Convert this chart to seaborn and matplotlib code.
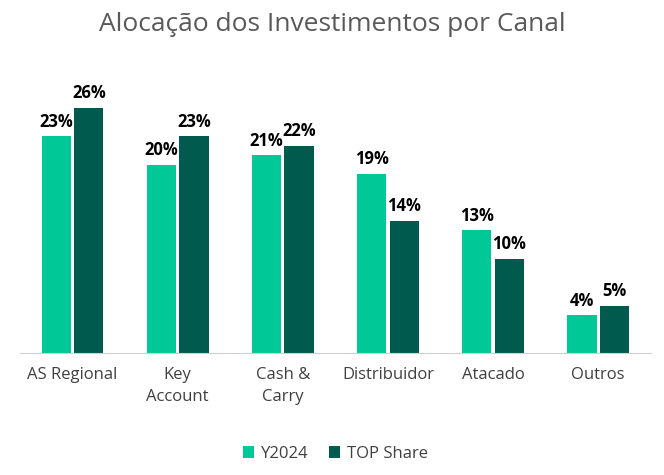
import pandas as pd
import matplotlib.pyplot as plt
import seaborn as sns

canais = ['AS Regional', 'Key\nAccount', 'Cash &\nCarry', 'Distribuidor', 'Atacado', 'Outros']
y2024 = [23, 20, 21, 19, 13, 4]
top_share = [26, 23, 22, 14, 10, 5]

df = pd.DataFrame({
    'canal': canais * 2,
    'serie': ['Y2024'] * len(canais) + ['TOP Share'] * len(canais),
    'valor': y2024 + top_share,
})

plt.rcParams['font.family'] = 'Open Sans'
fig = plt.figure(figsize=(6.64, 4.75), dpi=100)
ax = fig.add_axes([0.03, 0.257, 0.95, 0.585])
sns.barplot(data=df, x='canal', y='valor', hue='serie', palette=['#00C896', '#005A4E'],
            saturation=1, width=0.62, gap=0.1, ax=ax, legend=True)

for cont in ax.containers:
    ax.bar_label(cont, labels=[f'{int(v)}%' for v in cont.datavalues], padding=4,
                 fontsize=12, fontweight='bold', color='black')

ax.set_ylim(0, 29.5)
ax.set_yticks([])
ax.set_xlabel('')
ax.set_ylabel('')
for s in ['top', 'right', 'left']:
    ax.spines[s].set_visible(False)
ax.spines['bottom'].set_color('#d0d0d0')
ax.tick_params(axis='x', length=0, labelsize=12, colors='#404040', pad=10)
for t in ax.get_xticklabels():
    t.set_verticalalignment('top')
    t.set_linespacing(1.5)

ax.legend(loc='upper center', bbox_to_anchor=(0.5, -0.28), ncol=2, frameon=False,
          fontsize=12, handlelength=0.7, handleheight=0.7, columnspacing=1.2,
          handletextpad=0.4, labelcolor='#404040')
fig.suptitle('Alocação dos Investimentos por Canal', y=0.975, fontsize=19, color='#595959')
fig.savefig('out.png', dpi=100)
